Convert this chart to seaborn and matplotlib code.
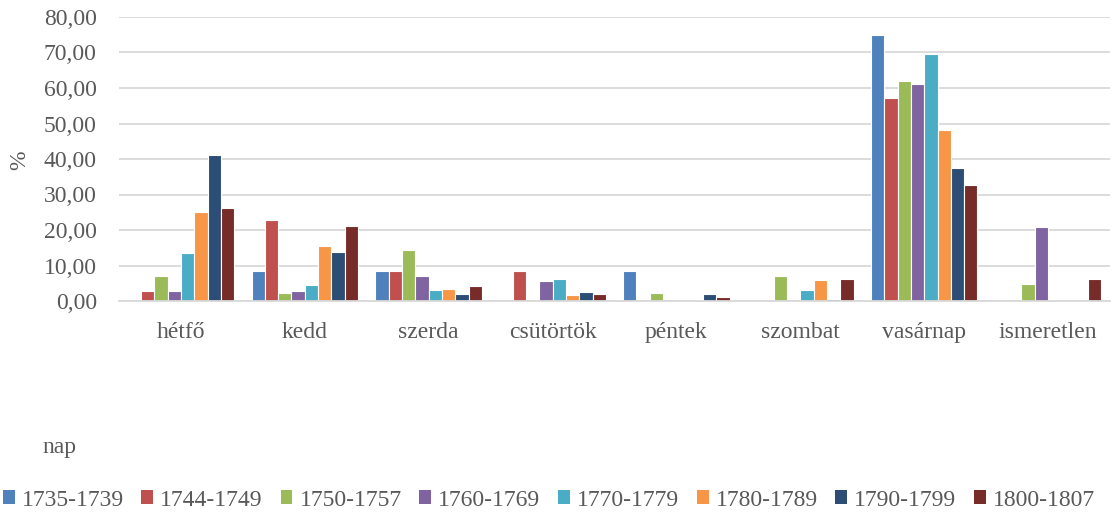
import matplotlib
matplotlib.use('Agg')
import matplotlib.pyplot as plt
import matplotlib.patches as mpatches
import matplotlib.ticker as mticker
import seaborn as sns
import pandas as pd

# --- data ---
days = ['hétfő', 'kedd', 'szerda', 'csütörtök', 'péntek',
        'szombat', 'vasárnap', 'ismeretlen']
periods = ['1735-1739', '1744-1749', '1750-1757', '1760-1769',
           '1770-1779', '1780-1789', '1790-1799', '1800-1807']

p1735 = [0.00, 8.33, 8.33, 0.00, 8.33, 0.00, 75.00, 0.00]
p1744 = [2.86, 22.86, 8.57, 8.57, 0.00, 0.00, 57.14, 0.00]
p1750 = [7.14, 2.38, 14.29, 0.00, 2.38, 7.14, 61.90, 4.76]
p1760 = [2.78, 2.78, 6.94, 5.56, 0.00, 0.00, 61.11, 20.83]
p1770 = [13.64, 4.55, 3.03, 6.06, 0.00, 3.03, 69.70, 0.00]
p1780 = [25.00, 15.52, 3.45, 1.72, 0.00, 6.03, 48.28, 0.00]
p1790 = [41.25, 13.75, 1.88, 2.50, 1.88, 0.63, 37.50, 0.00]
p1800 = [26.25, 21.00, 4.17, 2.08, 1.04, 6.25, 32.64, 6.25]

series = [p1735, p1744, p1750, p1760, p1770, p1780, p1790, p1800]
colors = ['#4F81BD', '#C0504D', '#9BBB59', '#8064A2',
          '#4BACC6', '#F79646', '#2C4D75', '#772C2A']

rows = []
for per, vals in zip(periods, series):
    for d, v in zip(days, vals):
        rows.append({'nap': d, 'időszak': per, 'pct': v})
df = pd.DataFrame(rows)

# --- style ---
sns.set_style('white')
plt.rcParams['font.family'] = ['Liberation Serif', 'DejaVu Serif']
txt = '#595959'
fs = 17

fig = plt.figure(figsize=(11.18, 5.15), dpi=100)
ax = fig.add_axes([119 / 1118, 1 - 301 / 515, (1110 - 119) / 1118, (301 - 17) / 515])

sns.barplot(data=df, x='nap', y='pct', hue='időszak', order=days,
            hue_order=periods, palette=colors, ax=ax, width=0.86,
            edgecolor='white', linewidth=0.8, saturation=1, legend=False)

ax.set_ylim(0, 80)
ax.set_xlim(-0.5, len(days) - 0.5)
ax.yaxis.set_major_locator(mticker.MultipleLocator(10))
ax.yaxis.set_major_formatter(mticker.FuncFormatter(
    lambda v, _: f'{v:.2f}'.replace('.', ',')))
ax.grid(axis='y', color='#D9D9D9', linewidth=1.3)
ax.set_axisbelow(True)
for s in ['top', 'right', 'left']:
    ax.spines[s].set_visible(False)
ax.spines['bottom'].set_color('#D9D9D9')
ax.spines['bottom'].set_linewidth(1.3)
ax.tick_params(axis='both', length=0, labelsize=fs, colors=txt)
ax.tick_params(axis='y', pad=16)
ax.tick_params(axis='x', pad=15)
ax.set_xlabel('')
ax.set_ylabel('')

fig.text(20 / 1118, 1 - 160 / 515, '%', rotation=90, ha='center',
         va='center', fontsize=fs, color=txt)
fig.text(42 / 1118, 1 - 447 / 515, 'nap', ha='left', va='center',
         fontsize=fs, color=txt)

handles = [mpatches.Patch(facecolor=c, edgecolor='none', label=p)
           for c, p in zip(colors, periods)]
fig.legend(handles=handles, loc='center', bbox_to_anchor=(0.491, 1 - 500 / 515),
           ncol=8, frameon=False, fontsize=fs, labelcolor=txt,
           handlelength=0.5, handleheight=0.5, handletextpad=0.3,
           columnspacing=0.75, borderaxespad=0)

fig.savefig('out.png', dpi=100)
